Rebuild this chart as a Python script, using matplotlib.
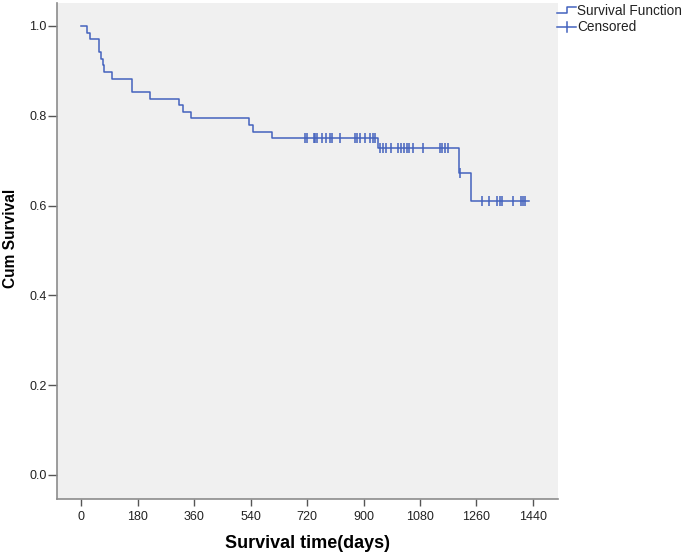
import numpy as np
import matplotlib
matplotlib.use("Agg")
import matplotlib.pyplot as plt
from matplotlib.lines import Line2D

# Kaplan-Meier step curve
step_times = [0, 17, 28, 57, 62, 69, 71, 97, 161, 218, 311, 324, 349, 534, 548, 608, 945, 1204, 1244, 1429]
step_surv = [1.0, 0.985, 0.971, 0.941, 0.926, 0.912, 0.897, 0.882, 0.853, 0.838, 0.824, 0.809,
             0.794, 0.779, 0.765, 0.750, 0.729, 0.673, 0.611, 0.611]

censor_times = [712, 719, 741, 746, 751, 767, 780, 794, 799, 825, 873, 878, 889, 905, 921, 931, 937,
                953, 963, 971, 988, 1011, 1019, 1030, 1037, 1046, 1059, 1088, 1143, 1151, 1159, 1170,
                1207, 1276, 1300, 1326, 1334, 1341, 1376, 1403, 1408, 1414]

x_ticks = [0, 180, 360, 540, 720, 900, 1080, 1260, 1440]
y_ticks = [0.0, 0.2, 0.4, 0.6, 0.8, 1.0]

line_color = "#4463BE"
bg = "#F0F0F0"
axis_col = "#8C8C8C"

plt.rcParams['font.family'] = ['Liberation Sans', 'DejaVu Sans']

fig = plt.figure(figsize=(6.85, 5.55), dpi=100)
ax_l, ax_t, ax_r, ax_bot = 57, 3, 558, 499
ax_w, ax_h = ax_r - ax_l, ax_bot - ax_t
ax = fig.add_axes([ax_l/685, (555-ax_bot)/555, ax_w/685, ax_h/555])
ax.set_facecolor(bg)

st = np.array(step_times)
ss = np.array(step_surv)
ax.step(st, ss, where='post', color=line_color, lw=1.1)

ct = np.array(censor_times)
idx = np.searchsorted(st, ct, side='right') - 1
cs = ss[idx]
ax.plot(ct, cs, linestyle='none', marker='|', markersize=7, markeredgewidth=1.1, color=line_color)

ax.set_xlim(-78.1, 1520)
ax.set_ylim(-0.0535, 1.0512)
ax.set_xticks(x_ticks)
ax.set_xticklabels([str(v) for v in x_ticks])
ax.set_yticks(y_ticks)
ax.set_yticklabels([f"{v:.1f}" for v in y_ticks])

for s in ['top', 'right']:
    ax.spines[s].set_visible(False)
for s in ['left', 'bottom']:
    ax.spines[s].set_color(axis_col)
    ax.spines[s].set_linewidth(1.2)
ax.tick_params(axis='x', direction='out', length=5, width=1.0, color='#555555',
               labelsize=9, labelcolor='#222222', pad=4)
ax.tick_params(axis='y', direction='out', length=6.5, width=1.0, color='#555555',
               labelsize=9, labelcolor='#222222', pad=1)

ax.set_xlabel("Survival time(days)", fontsize=13, fontweight='bold')
ax.xaxis.set_label_coords(0.5, -(535 - ax_bot) / ax_h)
ax.set_ylabel("Cum Survival", fontsize=11.2, fontweight='bold')
ax.yaxis.set_label_coords(-(ax_l - 18) / ax_w, (ax_bot - 238) / ax_h)

# legend drawn in figure pixel coordinates
def fx(px):
    return px / 685
def fy(py):
    return 1 - py / 555

fig.add_artist(Line2D([fx(557), fx(567), fx(567), fx(576)], [fy(13), fy(13), fy(7), fy(7)],
                      color=line_color, lw=1.1))
fig.text(fx(577), fy(11), "Survival Function", fontsize=9.8, va='center', ha='left', color='#222222')
fig.add_artist(Line2D([fx(557), fx(576)], [fy(27), fy(27)], color=line_color, lw=1.1))
fig.add_artist(Line2D([fx(566.5), fx(566.5)], [fy(22), fy(32)], color=line_color, lw=1.1))
fig.text(fx(577), fy(27), "Censored", fontsize=9.8, va='center', ha='left', color='#222222')

fig.savefig("out.png", dpi=100)
